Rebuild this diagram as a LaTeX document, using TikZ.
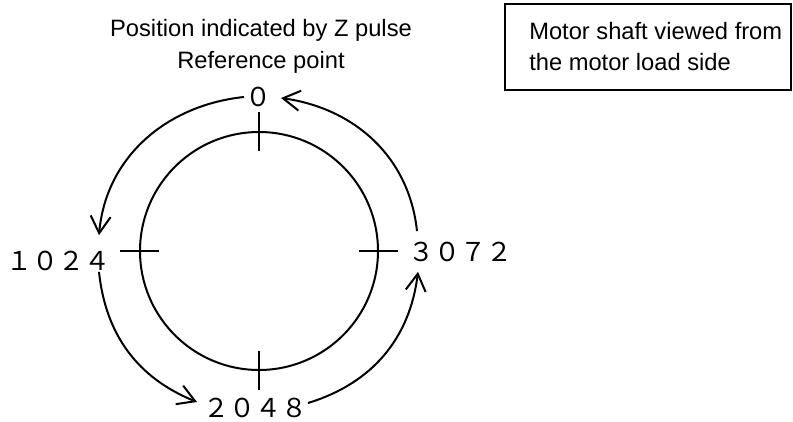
\documentclass[tikz,border=0pt]{standalone}
\usepackage{fontspec}
\setmainfont{Liberation Sans}
\newfontfamily\cjk{Noto Sans CJK JP}
\usetikzlibrary{arrows.meta,calc}

\tikzset{
  digits/.style={font=\cjk\fontsize{26}{26}\selectfont, inner sep=0pt},
  turn/.style={line width=2pt, -{Straight Barb[length=17pt,width=20pt]}},
}

\begin{document}
\begin{tikzpicture}[x=1pt, y=1pt, line width=2pt]
  \useasboundingbox (0,0) rectangle (793,421);

  % Headings
  \node[align=center, font=\fontsize{23.7}{32}\selectfont] (title) at (261,375) {Position indicated by Z pulse\\Reference point};
  \node[draw, line width=1.7pt, minimum width=286pt, minimum height=86pt, anchor=north east] (note) at (792,418) {};
  \node[anchor=west, align=left, inner sep=0pt, font=\fontsize{23.7}{31}\selectfont] (notetext) at ($(note.west)+(24,0)$) {Motor shaft viewed from\\the motor load side};

  % Shaft with its four marks
  \node[circle, draw, line width=2pt, minimum size=238pt, inner sep=0pt] (shaft) at (259,170) {};
  \foreach \a in {0,90,180,270}
    \draw ($(shaft.center)+(\a:100)$) -- ($(shaft.center)+(\a:139)$);

  % Pulse counts
  \node[digits] (n0) at (258,324) {０};
  \node[digits] (n1024) at (58,160) {１０２４};
  \node[digits] (n2048) at (255,13) {２０４８};
  \node[digits] (n3072) at (460,169) {３０７２};

  % Rotation arrows
  \draw[turn] (n0.west) to[out=186, in=85] ($(n1024.north east)+(-12,15)$);
  \draw[turn] ($(n1024.south east)+(-12,0)$) to[out=276, in=158] ($(n2048.west)+(-5,6)$);
  \draw[turn] ($(n2048.east)+(0,5)$) to[out=17, in=263] ($(n3072.south west)+(11,-9)$);
  \draw[turn] ($(n3072.north west)+(10,10)$) to[out=96, in=352] ($(n0.east)+(9,-1)$);
\end{tikzpicture}
\end{document}
